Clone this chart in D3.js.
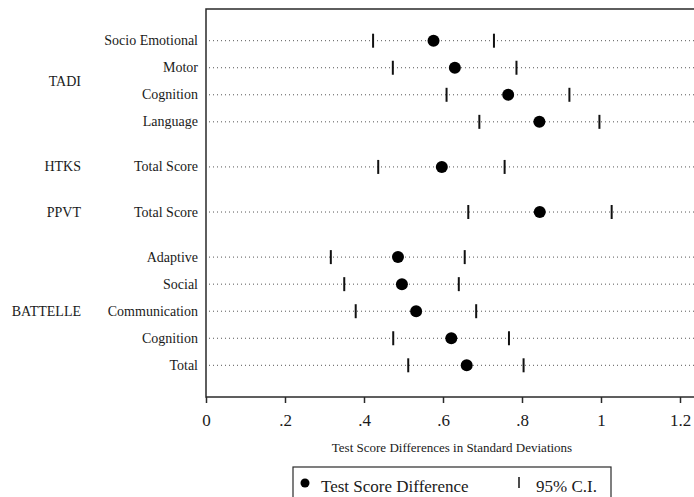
<!DOCTYPE html>
<html>
<head>
<meta charset="utf-8">
<script src="https://cdn.jsdelivr.net/npm/d3@7"></script>
<style>
  body { margin: 0; background: #fff; }
  svg text { font-family: "Liberation Serif", "Times New Roman", serif; fill: #1a1a1a; }
</style>
</head>
<body>
<div id="chart"></div>
<script>
// data
var groups = ["TADI", "TADI", "TADI", "TADI", "HTKS", "PPVT", "BATTELLE", "BATTELLE", "BATTELLE", "BATTELLE", "BATTELLE"];
var tests = ["Socio Emotional", "Motor", "Cognition", "Language", "Total Score", "Total Score",
             "Adaptive", "Social", "Communication", "Cognition", "Total"];
var estimates = [0.576, 0.630, 0.765, 0.844, 0.597, 0.845, 0.486, 0.496, 0.532, 0.621, 0.660];
var ciLow  = [0.423, 0.473, 0.609, 0.692, 0.436, 0.664, 0.316, 0.350, 0.379, 0.474, 0.512];
var ciHigh = [0.729, 0.786, 0.920, 0.996, 0.756, 1.027, 0.655, 0.640, 0.684, 0.767, 0.804];
var xTicks = [0, 0.2, 0.4, 0.6, 0.8, 1, 1.2];

var svgWidth = 694;
var svgHeight = 497;

var margin = { top: 9, left: 206, bottom: 100 };
var plotBottom = svgHeight - margin.bottom;

var svg = d3.select("#chart")
  .append("svg")
  .attr("width", svgWidth)
  .attr("height", svgHeight);

// build rows, adding an extra gap between groups
var groupGap = 0.667;
var rows = [];
var gi = -1;
tests.forEach(function(t, i) {
  if (i === 0 || groups[i] !== groups[i - 1]) gi++;
  rows.push({
    group: groups[i],
    test: t,
    est: estimates[i],
    lo: ciLow[i],
    hi: ciHigh[i],
    pos: i + gi * groupGap
  });
});

var x = d3.scaleLinear()
  .domain([0, 1.2])
  .range([margin.left, 680]);

var y = d3.scaleLinear()
  .domain([0, d3.max(rows, d => d.pos)])
  .range([40.7, 365.3]);

// frame (right side runs off the page)
svg.append("rect")
  .attr("x", margin.left)
  .attr("y", margin.top)
  .attr("width", 520)
  .attr("height", plotBottom - margin.top)
  .attr("fill", "none")
  .attr("stroke", "#2a2a2a")
  .attr("stroke-width", 1.5);

// dotted guide lines
svg.selectAll(".guide")
  .data(rows)
  .enter()
  .append("line")
  .attr("x1", x(0) + 3)
  .attr("x2", svgWidth)
  .attr("y1", d => y(d.pos))
  .attr("y2", d => y(d.pos))
  .attr("stroke", "#555")
  .attr("stroke-width", 1)
  .attr("stroke-dasharray", "1,3");

// CI ticks
var ci = [];
rows.forEach(function(d) { ci.push({ v: d.lo, pos: d.pos }, { v: d.hi, pos: d.pos }); });
svg.selectAll(".ci")
  .data(ci)
  .enter()
  .append("line")
  .attr("x1", d => x(d.v))
  .attr("x2", d => x(d.v))
  .attr("y1", d => y(d.pos) - 7)
  .attr("y2", d => y(d.pos) + 7)
  .attr("stroke", "#111")
  .attr("stroke-width", 2);

// point estimates
svg.selectAll(".dot")
  .data(rows)
  .enter()
  .append("circle")
  .attr("cx", d => x(d.est))
  .attr("cy", d => y(d.pos))
  .attr("r", 6)
  .attr("fill", "#000");

// row labels
svg.selectAll(".rowLabel")
  .data(rows)
  .enter()
  .append("text")
  .attr("x", 198)
  .attr("y", d => y(d.pos))
  .attr("dy", "0.32em")
  .attr("text-anchor", "end")
  .style("font-size", "14px")
  .text(d => d.test);

// group labels, centred on each group's rows
var groupNames = Array.from(new Set(groups));
svg.selectAll(".groupLabel")
  .data(groupNames)
  .enter()
  .append("text")
  .attr("x", 81)
  .attr("y", function(g) {
    var ps = rows.filter(r => r.group === g).map(r => r.pos);
    return y((d3.min(ps) + d3.max(ps)) / 2);
  })
  .attr("dy", "0.32em")
  .attr("text-anchor", "end")
  .style("font-size", "14px")
  .text(d => d);

// x axis
var bottomAxis = d3.axisBottom(x)
  .tickValues(xTicks)
  .tickSize(6)
  .tickFormat(d => d === 0 ? "0" : String(d).replace(/^0/, ""));

var axisG = svg.append("g")
  .attr("transform", `translate(0, ${plotBottom})`)
  .call(bottomAxis);
axisG.select(".domain").remove();
axisG.selectAll(".tick line").attr("stroke", "#2a2a2a").attr("stroke-width", 1.5);
axisG.selectAll(".tick text")
  .attr("y", 17)
  .style("font-size", "17px")
  .style("font-family", "'Liberation Serif', serif")
  .attr("fill", "#1a1a1a");

// axis title
svg.append("text")
  .attr("x", 452)
  .attr("y", 452)
  .attr("text-anchor", "middle")
  .style("font-size", "13px")
  .text("Test Score Differences in Standard Deviations");

// legend
var legend = svg.append("g");
legend.append("rect")
  .attr("x", 293)
  .attr("y", 467)
  .attr("width", 318)
  .attr("height", 60)
  .attr("fill", "none")
  .attr("stroke", "#2a2a2a")
  .attr("stroke-width", 1.2);
legend.append("circle")
  .attr("cx", 305)
  .attr("cy", 483)
  .attr("r", 4.5)
  .attr("fill", "#000");
legend.append("text")
  .attr("x", 321)
  .attr("y", 492)
  .style("font-size", "17px")
  .text("Test Score Difference");
legend.append("line")
  .attr("x1", 519)
  .attr("x2", 519)
  .attr("y1", 477)
  .attr("y2", 488)
  .attr("stroke", "#111")
  .attr("stroke-width", 1.5);
legend.append("text")
  .attr("x", 536)
  .attr("y", 492)
  .style("font-size", "17px")
  .text("95% C.I.");
</script>
</body>
</html>
